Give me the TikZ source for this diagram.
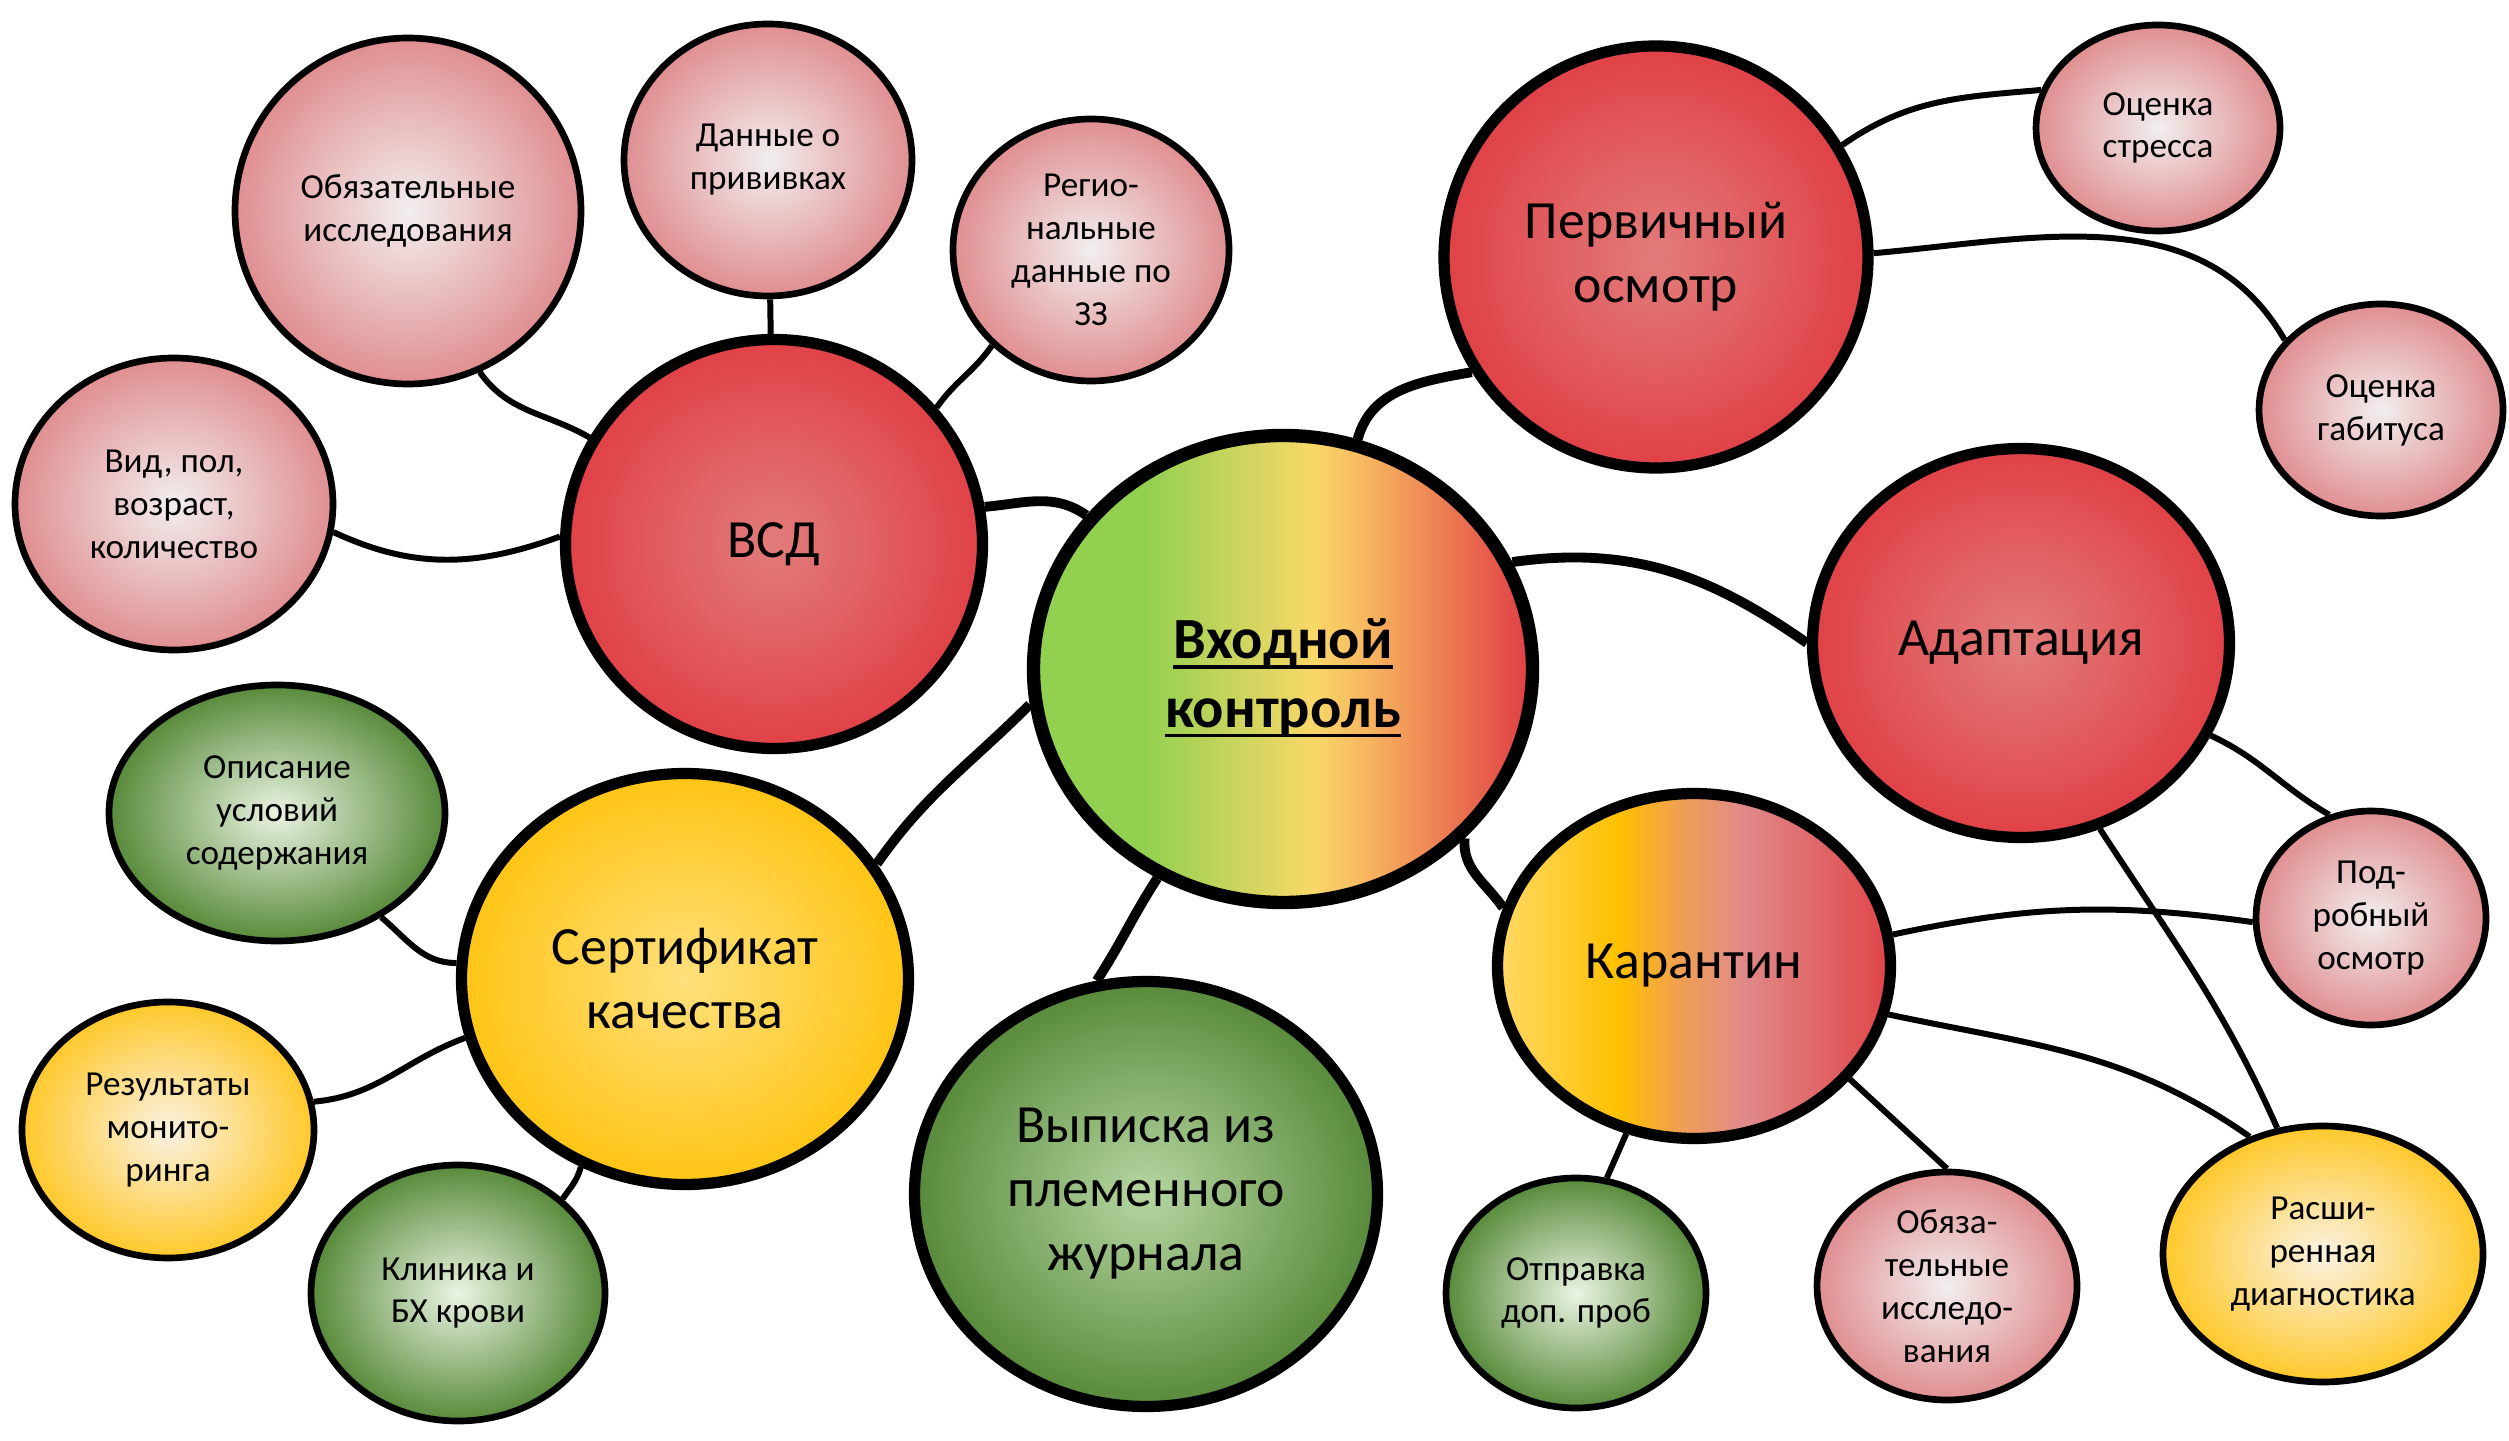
\documentclass[tikz,border=0pt]{standalone}
\usepackage{fontspec}
\setmainfont{Carlito}
\usepackage{tikz}
\usetikzlibrary{shapes.geometric, backgrounds}

\definecolor{redout}{HTML}{E04146}
\definecolor{redin}{HTML}{E27C7C}
\definecolor{pinkout}{HTML}{E08E90}
\definecolor{pinkin}{HTML}{F2EEEE}
\definecolor{greenout}{HTML}{588A3A}
\definecolor{greenin}{HTML}{EAF4E2}
\definecolor{vypin}{HTML}{B6D6A2}
\definecolor{goldout}{HTML}{FFC414}
\definecolor{goldin}{HTML}{FFE07C}
\definecolor{yelout}{HTML}{FFC82A}
\definecolor{yelin}{HTML}{FAF2E4}
\definecolor{ctrlgreen}{HTML}{92D050}
\definecolor{ctrlyellow}{HTML}{F8D868}
\definecolor{ctrlorange}{HTML}{F8B860}
\definecolor{ctrlred}{HTML}{E03C44}
\definecolor{karyellow}{HTML}{FFD966}
\definecolor{kargold}{HTML}{FFC000}
\definecolor{karorange}{HTML}{F0A050}
\definecolor{karpink}{HTML}{E08A8A}
\definecolor{karred}{HTML}{E04448}

\pgfdeclarehorizontalshading{ctrlshade}{100bp}{color(0bp)=(ctrlgreen); color(36bp)=(ctrlgreen); color(53bp)=(ctrlyellow); color(58bp)=(ctrlorange); color(75bp)=(ctrlred); color(100bp)=(ctrlred)}
\pgfdeclarehorizontalshading{karshade}{100bp}{color(0bp)=(karyellow); color(25bp)=(karyellow); color(40.5bp)=(kargold); color(48bp)=(karorange); color(56bp)=(karpink); color(75bp)=(karred); color(100bp)=(karred)}

% thicker underline for the centre title
\newcommand{\ctrlline}[1]{\setbox0=\hbox{#1}\rlap{\rule[-0.10cm]{\wd0}{1pt}}\box0}

\tikzset{
  bubble/.style={ellipse, draw=black, inner sep=0pt, align=center},
  bigbubble/.style={bubble, line width=3.2pt, font=\fontsize{15.3}{18.2}\selectfont},
  smallbubble/.style={bubble, line width=1.9pt, font=\fontsize{10}{12.2}\selectfont},
  redfill/.style={inner color=redin, outer color=redout},
  pinkfill/.style={inner color=pinkin, outer color=pinkout},
  greenfill/.style={inner color=greenin, outer color=greenout},
  yelfill/.style={inner color=yelin, outer color=yelout},
  link/.style={line width=1.7pt},
  biglink/.style={line width=2.8pt}
}

\begin{document}
\begin{tikzpicture}
    \useasboundingbox (0,0) rectangle (25.09,14.40);

    % centre
    \node[bigbubble, line width=3.8pt, shading=ctrlshade, minimum width=4.99cm, minimum height=4.67cm, font=\bfseries\fontsize{16.6}{19.5}\selectfont] at (12.83, 7.71) (ctrl) {\rule{0pt}{0.58cm}\ctrlline{Входной}\\\ctrlline{контроль}};

    % main bubbles
    \node[bigbubble, redfill, minimum width=4.17cm, minimum height=4.09cm] at (7.74, 8.96) (vsd) {ВСД};
    \node[bigbubble, redfill, minimum width=4.24cm, minimum height=4.22cm] at (16.56, 11.83) (perv) {Первичный\\осмотр};
    \node[bigbubble, redfill, minimum width=4.17cm, minimum height=3.89cm] at (20.21, 7.97) (adapt) {Адаптация};
    \node[bigbubble, shading=karshade, minimum width=3.93cm, minimum height=3.45cm] at (16.94, 4.74) (karant) {Карантин};
    \node[bigbubble, inner color=vypin, outer color=greenout, minimum width=4.63cm, minimum height=4.25cm] at (11.46, 2.46) (vypiska) {Выписка из\\племенного\\журнала};
    \node[bigbubble, inner color=goldin, outer color=goldout, minimum width=4.47cm, minimum height=4.11cm] at (6.85, 4.61) (sert) {Сертификат\\качества};

    % small bubbles
    \node[smallbubble, pinkfill, minimum width=3.46cm, minimum height=3.46cm] at (4.08, 12.29) (obyaz) {Обязательные\\исследования};
    \node[smallbubble, pinkfill, minimum width=2.88cm, minimum height=2.72cm] at (7.68, 12.80) (privivki) {Данные о\\прививках};
    \node[smallbubble, pinkfill, minimum width=2.76cm, minimum height=2.62cm] at (10.91, 11.90) (region) {Регио-\\нальные\\данные по\\ЗЗ};
    \node[smallbubble, pinkfill, minimum width=3.18cm, minimum height=2.92cm] at (1.74, 9.36) (vid) {Вид, пол,\\возраст,\\количество};
    \node[smallbubble, pinkfill, minimum width=2.44cm, minimum height=2.06cm] at (21.58, 13.12) (stress) {Оценка\\стресса};
    \node[smallbubble, pinkfill, minimum width=2.44cm, minimum height=2.12cm] at (23.81, 10.30) (gabitus) {Оценка\\габитуса};
    \node[smallbubble, pinkfill, minimum width=2.30cm, minimum height=2.14cm] at (23.71, 5.22) (podrob) {Под-\\робный\\осмотр};
    \node[smallbubble, yelfill, minimum width=3.20cm, minimum height=2.56cm] at (23.23, 1.86) (rasshir) {Расши-\\ренная\\диагностика};
    \node[smallbubble, pinkfill, minimum width=2.60cm, minimum height=2.28cm] at (19.47, 1.54) (obyaz2) {Обяза-\\тельные\\исследо-\\вания};
    \node[smallbubble, greenfill, minimum width=2.60cm, minimum height=2.30cm] at (15.76, 1.47) (otpravka) {Отправка\\доп. проб};
    \node[smallbubble, greenfill, minimum width=2.94cm, minimum height=2.56cm] at (4.58, 1.47) (klinika) {Клиника и\\БХ крови};
    \node[smallbubble, yelfill, minimum width=2.92cm, minimum height=2.56cm] at (1.68, 3.10) (rezult) {Результаты\\монито-\\ринга};
    \node[smallbubble, greenfill, minimum width=3.36cm, minimum height=2.56cm] at (2.77, 6.27) (opisanie) {Описание\\условий\\содержания};

    \begin{scope}[on background layer]
        \draw [biglink] (vsd.10) to[out=5, in=145] (ctrl.142);
        \draw [biglink] (ctrl.72) to[out=75, in=190] (perv.212);
        \draw [biglink] (ctrl.25) to[out=8, in=145] (adapt.180);
        \draw [biglink] (ctrl.-43) to[out=-95, in=125] (karant.163);
        \draw [biglink] (ctrl.-121) to[out=-123, in=57] (vypiska.103);
        \draw [biglink] (ctrl.188) to[out=225, in=55] (sert.31);

        \draw [link] (obyaz.-66) to[out=-55, in=150] (vsd.150);
        \draw [link] (privivki) -- (vsd);
        \draw [link] (region.-136) to[out=-125, in=55] (vsd.40);
        \draw [link] (vid.-10) to[out=-25, in=200] (vsd.178);

        \draw [link] (perv.31) to[out=35, in=185] (stress.162);
        \draw [link] (perv.1) to[out=5, in=120] (gabitus.144);

        \draw [link] (adapt.-26) to[out=-25, in=150] (podrob.112);
        \draw [link] (adapt.-67) to[out=-57, in=114] (rasshir.110);

        \draw [link] (karant.9) to[out=12, in=172] (podrob.182);
        \draw [link] (karant.-14) to[out=-12, in=145] (rasshir.122);
        \draw [link] (karant.-36) -- (obyaz2.90);
        \draw [link] (karant.-112) -- (otpravka.75);

        \draw [link] (sert.176) to[out=180, in=-40] (opisanie.-45);
        \draw [link] (sert.195) to[out=200, in=5] (rezult.11);
        \draw [link] (sert.-119) to[out=-105, in=55] (klinika.42);
    \end{scope}
\end{tikzpicture}
\end{document}
